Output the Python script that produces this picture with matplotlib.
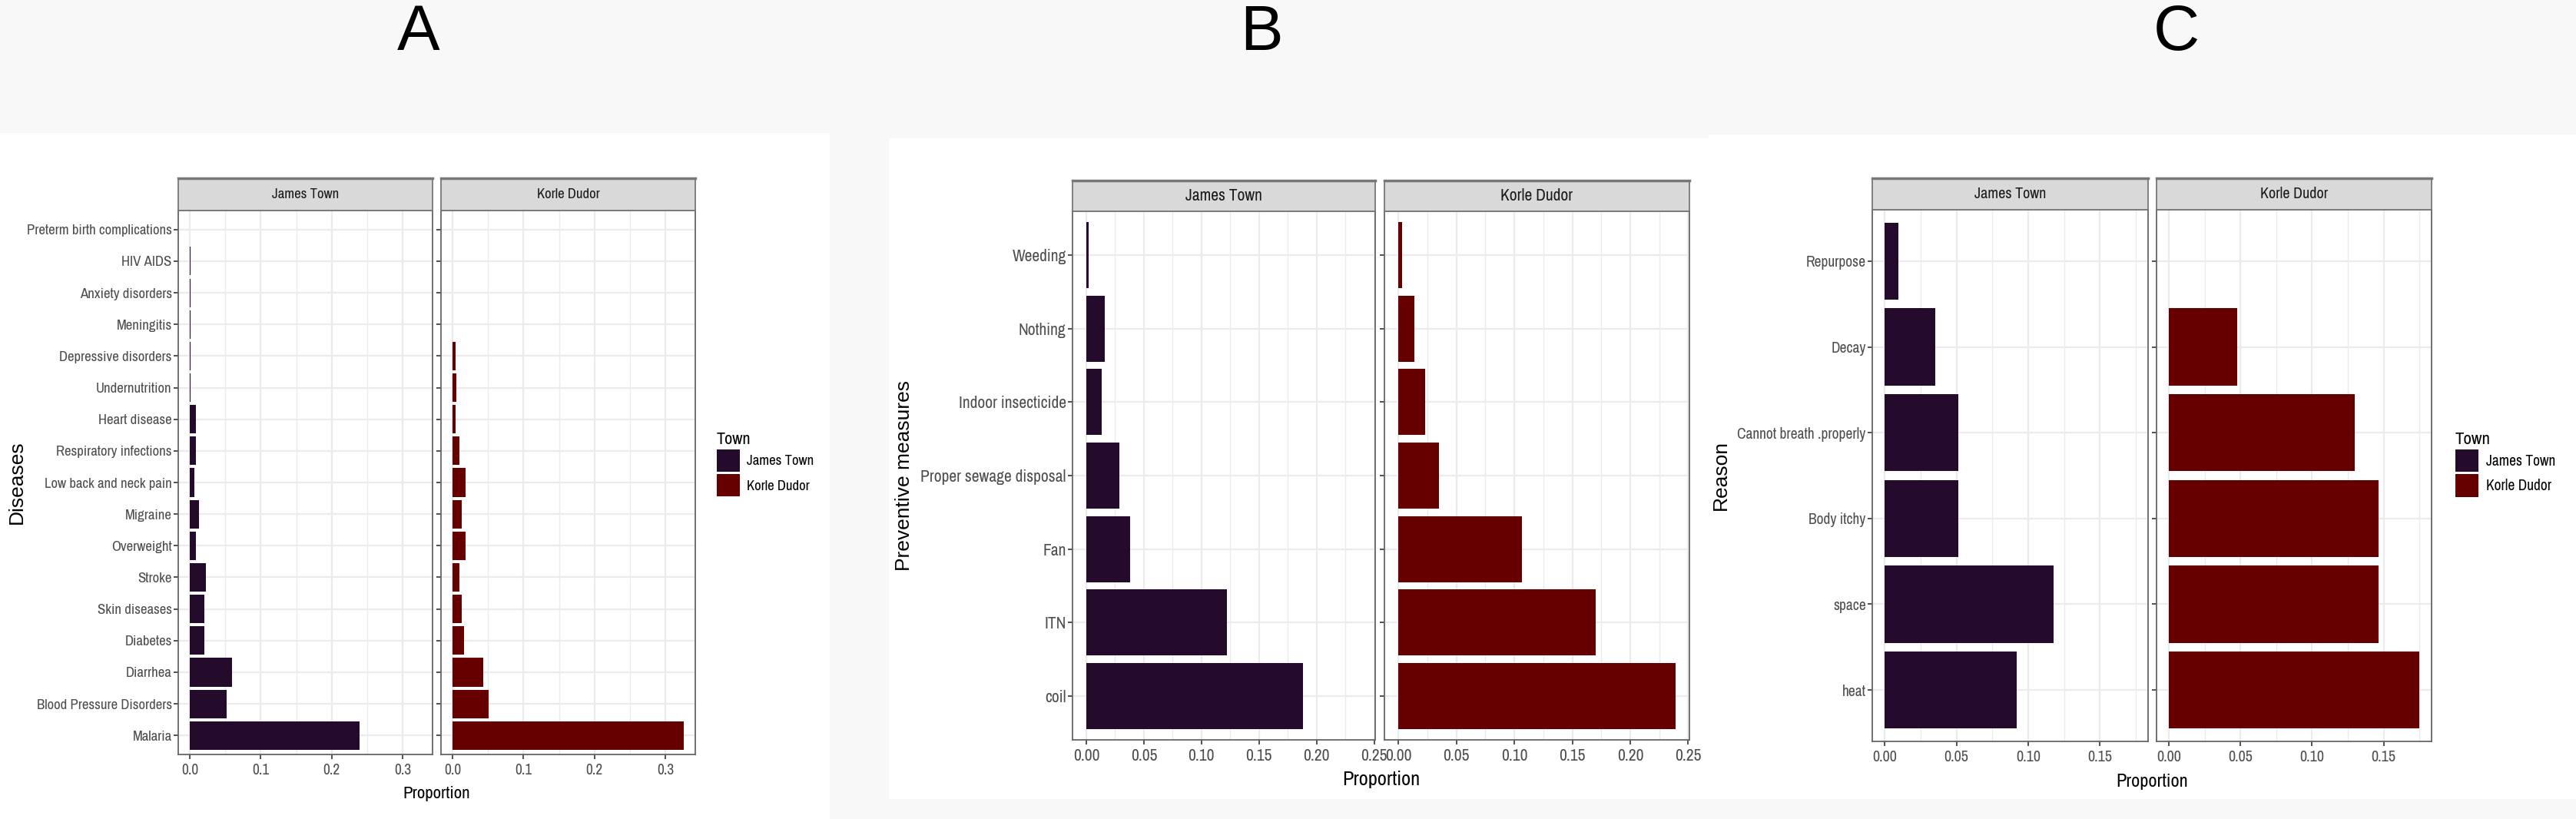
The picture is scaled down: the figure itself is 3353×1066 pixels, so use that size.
import matplotlib
matplotlib.use("Agg")
import matplotlib.pyplot as plt
from matplotlib import font_manager as fm
from matplotlib.patches import Rectangle, Patch
import numpy as np

# --- data (top-to-bottom order as displayed) ---
towns = ["James Town", "Korle Dudor"]
town_colors = ["#240b2b", "#660000"]

diseases = ["Preterm birth complications", "HIV AIDS", "Anxiety disorders", "Meningitis",
            "Depressive disorders", "Undernutrition", "Heart disease", "Respiratory infections",
            "Low back and neck pain", "Migraine", "Overweight", "Stroke", "Skin diseases",
            "Diabetes", "Diarrhea", "Blood Pressure Disorders", "Malaria"]
diseases_jt = [0.0, 0.0015, 0.0015, 0.0015, 0.0015, 0.0015, 0.0087, 0.0087, 0.0067, 0.0128,
               0.0087, 0.0226, 0.020, 0.021, 0.0596, 0.0524, 0.2395]
diseases_kd = [0.0, 0.0, 0.0, 0.0, 0.0046, 0.0058, 0.0046, 0.0097, 0.0184, 0.0133,
               0.0184, 0.0097, 0.0133, 0.0158, 0.043, 0.051, 0.326]

measures = ["Weeding", "Nothing", "Indoor insecticide", "Proper sewage disposal", "Fan", "ITN", "coil"]
measures_jt = [0.0023, 0.0162, 0.0134, 0.029, 0.038, 0.122, 0.188]
measures_kd = [0.0032, 0.0139, 0.0231, 0.0352, 0.1065, 0.170, 0.239]

reasons = ["Repurpose", "Decay", "Cannot breath .properly", "Body itchy", "space", "heat"]
reasons_jt = [0.0094, 0.035, 0.051, 0.051, 0.1174, 0.0919]
reasons_kd = [0.0, 0.0476, 0.130, 0.1465, 0.1465, 0.1748]

W, H = 3353, 1066
REG = ["Liberation Sans", "DejaVu Sans"]

# look for a narrow sans (the original uses Arial Narrow style text)
narrow = None
narrow_stretch = "normal"
for f in fm.fontManager.ttflist:
    if ("Narrow" in f.name or "Condensed" in f.name) and f.style == "normal" and f.weight in (400, "normal", "regular"):
        narrow = f.name
        break
if narrow is None:
    for f in fm.fontManager.ttflist:
        if f.stretch in ("condensed", "semi-condensed") and f.style == "normal" and f.weight in (400, "normal", "regular"):
            narrow = f.name
            narrow_stretch = f.stretch
            break
if narrow is None:
    NARROW = REG
    k = 0.86
else:
    NARROW = [narrow] + REG
    k = 1.0
plt.rcParams["font.family"] = NARROW
plt.rcParams["font.stretch"] = narrow_stretch

fig = plt.figure(figsize=(W / 100, H / 100), dpi=100)
fig.patch.set_facecolor("#f8f8f8")


def box(x0, y0, x1, y1):
    return [x0 / W, 1 - y1 / H, (x1 - x0) / W, (y1 - y0) / H]


# white backgrounds of the three sub-figures
for (x0, y0, x1, y1) in [(0, 173, 1080, 1066), (1157, 180, 2224, 1040), (2224, 175, 3353, 1040)]:
    fig.patches.append(Rectangle((x0 / W, 1 - y1 / H), (x1 - x0) / W, (y1 - y0) / H,
                                 transform=fig.transFigure, facecolor="white",
                                 edgecolor="none", zorder=-5))

for lab, xc in [("A", 545), ("B", 1642), ("C", 2833)]:
    fig.text(xc / W, 1 - 65 / H, lab, ha="center", va="baseline", fontsize=60,
             family=REG, fontstretch="normal", color="black")


def facet_plot(cats, vals, panels, strip_y, panel_y, xlim, majors, minors, ticklabels,
               ysize, xsize, stripsize, ylabel, ylabel_x, ylabel_size, xlab_size, xlab_y):
    n = len(cats)
    ypos = np.arange(n)[::-1]
    for i, (px0, px1) in enumerate(panels):
        ax = fig.add_axes(box(px0, panel_y[0], px1, panel_y[1]))
        ax.set_facecolor("white")
        ax.barh(ypos, vals[i], height=0.9, color=town_colors[i], edgecolor="none",
                antialiased=False, zorder=3)
        ax.set_xlim(*xlim)
        ax.set_ylim(-0.6, n - 0.4)
        ax.set_xticks(majors)
        ax.set_xticklabels(ticklabels)
        ax.set_xticks(minors, minor=True)
        ax.set_yticks(ypos)
        if i == 0:
            ax.set_yticklabels(cats)
        else:
            ax.set_yticklabels([])
            ax.tick_params(axis="y", length=0)
        ax.grid(True, which="major", color="#ebebeb", lw=1.6, zorder=0)
        ax.grid(True, which="minor", axis="x", color="#ebebeb", lw=1.0, zorder=0)
        ax.set_axisbelow(True)
        ax.tick_params(which="minor", length=0)
        ax.tick_params(axis="both", which="major", colors="#333333", length=4, width=1.2,
                       labelcolor="#4d4d4d")
        ax.tick_params(axis="y", labelsize=ysize * k, pad=2)
        ax.tick_params(axis="x", labelsize=xsize * k, pad=4)
        for sp in ax.spines.values():
            sp.set_color("#666666")
            sp.set_linewidth(1.3)
        # facet strip
        sx = fig.add_axes(box(px0, strip_y[0], px1, strip_y[1]))
        sx.set_facecolor("#d9d9d9")
        sx.set_xticks([])
        sx.set_yticks([])
        for sp in sx.spines.values():
            sp.set_color("#777777")
            sp.set_linewidth(1.3)
        sx.spines["top"].set_linewidth(2.5)
        sx.text(0.5, 0.5, towns[i], ha="center", va="center", fontsize=stripsize * k,
                color="#1a1a1a", transform=sx.transAxes)
    xmid = (panels[0][0] + panels[-1][1]) / 2
    fig.text(xmid / W, 1 - xlab_y / H, "Proportion", ha="center", va="center",
             fontsize=xlab_size * k, color="black")
    fig.text(ylabel_x / W, 1 - (panel_y[0] + panel_y[1]) / 2 / H, ylabel, rotation=90,
             ha="center", va="center", fontsize=ylabel_size, family=REG,
             fontstretch="normal", color="black")


def town_legend(x, y, tsize, lsize):
    handles = [Patch(facecolor=c, edgecolor="none") for c in town_colors]
    fig.legend(handles, towns, title="Town", loc="upper left",
               bbox_to_anchor=(x / W, 1 - y / H), frameon=False, fontsize=lsize * k,
               title_fontsize=tsize * k, handlelength=30 / (lsize * k * 1.389),
               handleheight=38 / (lsize * k * 1.389), labelspacing=0.15,
               handletextpad=0.5, borderpad=0, borderaxespad=0, alignment="left")


# A: diseases
facet_plot(diseases, [diseases_jt, diseases_kd], [(232, 563), (574, 905)], (232, 274), (274, 982),
           (-0.0163, 0.342), [0, 0.1, 0.2, 0.3], [0.05, 0.15, 0.25],
           ["0.0", "0.1", "0.2", "0.3"], 13.5, 14, 13.5, "Diseases", 22, 19, 16.5, 1033)
town_legend(933, 562, 16, 13.5)

# B: preventive measures
facet_plot(measures, [measures_jt, measures_kd], [(1396, 1790), (1802, 2199)], (235, 275), (275, 963),
           (-0.012, 0.251), [0, 0.05, 0.10, 0.15, 0.20, 0.25], [0.025, 0.075, 0.125, 0.175, 0.225],
           ["0.00", "0.05", "0.10", "0.15", "0.20", "0.25"], 15.5, 15.5, 15.5,
           "Preventive measures", 1177, 19, 19, 1015)

# C: reasons
facet_plot(reasons, [reasons_jt, reasons_kd], [(2437, 2796), (2807, 3165)], (232, 273), (273, 965),
           (-0.0087, 0.1835), [0, 0.05, 0.10, 0.15], [0.025, 0.075, 0.125, 0.175],
           ["0.00", "0.05", "0.10", "0.15"], 14, 14.5, 14.5, "Reason", 2240, 19, 17.5, 1017)
town_legend(3196, 562, 16.5, 14)

fig.savefig("out.png", dpi=100, facecolor=fig.get_facecolor())
